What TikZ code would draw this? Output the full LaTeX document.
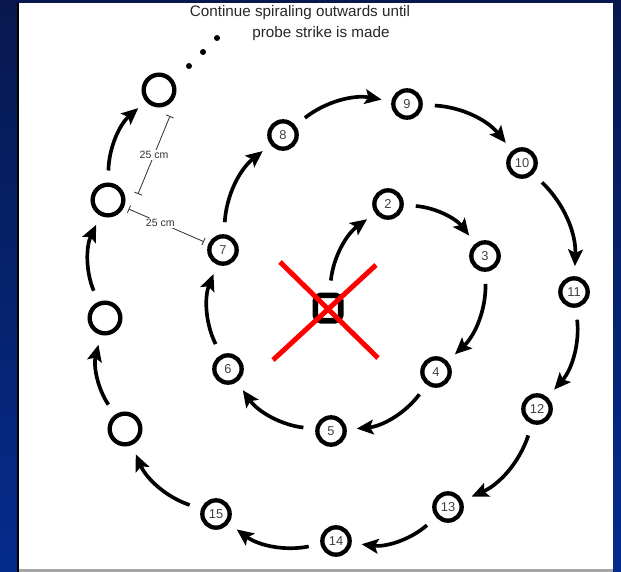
\documentclass[tikz,border=0pt]{standalone}
\usepackage{fontspec}
\setmainfont{Liberation Sans}
\usetikzlibrary{arrows.meta,positioning,calc}
\definecolor{framedark}{RGB}{8,24,78}
\definecolor{framelight}{RGB}{4,44,140}

\begin{document}
\begin{tikzpicture}[
  x=0.3mm, y=-0.3mm,
  stop/.style={circle, draw, line width=1.3mm, minimum size=8.2mm, inner sep=0pt,
    font=\fontsize{11}{11}\selectfont, text=black!75},
  blank/.style={circle, draw, line width=1.3mm, minimum size=9.2mm, inner sep=0pt},
  startbox/.style={rectangle, draw, rounded corners=1.6mm, line width=1.7mm,
    minimum size=7.6mm},
  sweep/.style={line width=1.1mm, -{Stealth[length=5mm,width=4.4mm,inset=1mm]},
    shorten <=3.6mm, shorten >=3mm, bend left=24},
  dimline/.style={line width=0.25mm, black!80, {Bar[width=2.4mm]}-{Bar[width=2.4mm]}},
  dimlabel/.style={fill=white, inner sep=1pt, font=\fontsize{9}{9}\selectfont, text=black!80},
  caption/.style={font=\fontsize{13}{14}\selectfont, text=black!85, inner sep=0pt}
]
\useasboundingbox (0,0) rectangle (621,572);
% frame
\shade[top color=framedark, bottom color=framelight] (0,0) rectangle (18,572);
\shade[top color=framedark, bottom color=framelight] (613,0) rectangle (621,572);
\fill[framedark] (0,0) rectangle (621,3);
\fill[black] (17,3) rectangle (19,572);
\fill[gray!70] (19,569) rectangle (613,572);

\node[caption] (title1) at (300,13) {Continue spiraling outwards until};
\node[caption] (title2) at (321,34) {probe strike is made};
\foreach \p in {(217,38),(203,52),(189,66)}
  \fill \p circle[radius=0.9mm];

% search pattern
\node[startbox] (s) at (328,308) {};
\node[stop] (n2) at (388,204) {2};
\node[stop] (n3) at (485,256) {3};
\node[stop] (n4) at (436,372) {4};
\node[stop] (n5) at (331,431) {5};
\node[stop] (n6) at (228,369) {6};
\node[stop] (n7) at (223,250) {7};
\node[stop] (n8) at (283,135) {8};
\node[stop] (n9) at (407,104) {9};
\node[stop] (n10) at (522,163) {10};
\node[stop] (n11) at (574,292) {11};
\node[stop] (n12) at (537,409) {12};
\node[stop] (n13) at (448,507) {13};
\node[stop] (n14) at (336,541) {14};
\node[stop] (n15) at (216,514) {15};
\node[blank] (o1) at (125,429) {};
\node[blank] (o2) at (105,318) {};
\node[blank] (o3) at (108,200) {};
\node[blank] (o4) at (159,90) {};

\foreach \a/\b in {s/n2,n2/n3,n3/n4,n4/n5,n5/n6,n6/n7,n7/n8,n8/n9,n9/n10,
  n10/n11,n11/n12,n12/n13,n13/n14,n14/n15,n15/o1,o1/o2,o2/o3,o3/o4}
  \draw[sweep] (\a) to (\b);

% spacing
\coordinate (d1a) at (170,116);
\coordinate (d1b) at (138,194);
\draw[dimline] (d1a) -- node[dimlabel] {25 cm} (d1b);
\draw[dimline, shorten <=1.5mm, shorten >=1.5mm] (o3) -- node[dimlabel, pos=0.43] {25 cm} (n7);

% crossed out start
\draw[red, line width=1.5mm] (280,262) -- (378,358);
\draw[red, line width=1.5mm] (376,265) -- (273,360);
\end{tikzpicture}
\end{document}
